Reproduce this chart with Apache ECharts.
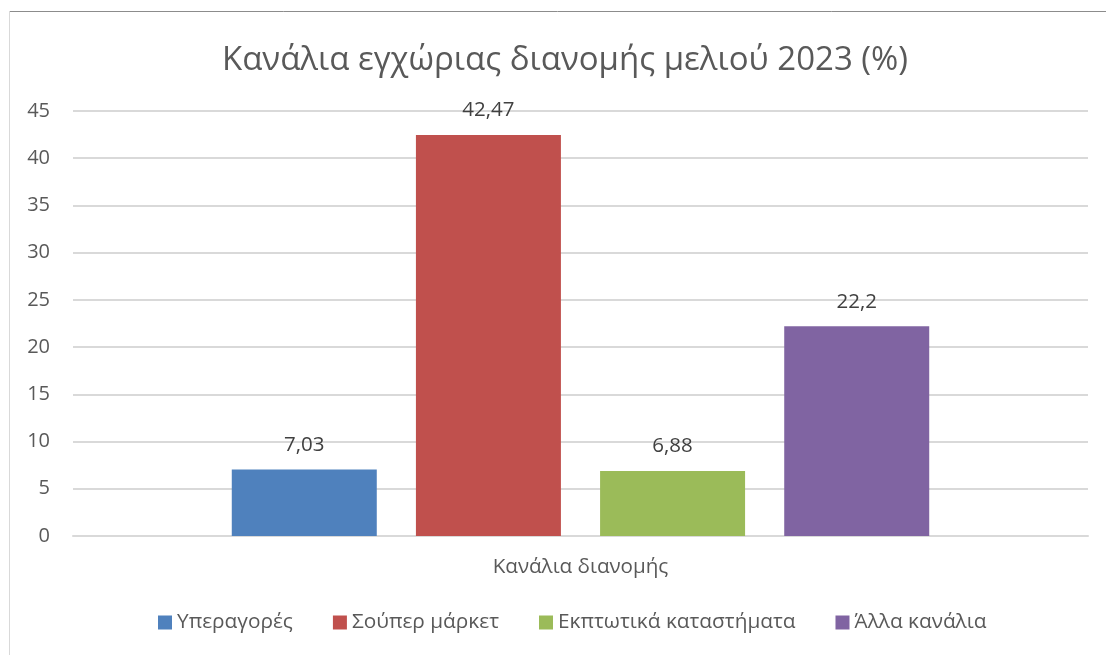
<!DOCTYPE html>
<html><head><meta charset="utf-8">
<script src="https://cdn.jsdelivr.net/npm/echarts@6/dist/echarts.min.js"></script>
<style>html,body{margin:0;padding:0;background:#fff}#c{width:1106px;height:655px}</style>
</head><body><div id="c"></div>
<script>
const titleText = 'Κανάλια εγχώριας διανομής μελιού 2023 (%)';
const categories = ['Κανάλια διανομής'];
const seriesNames = ['Υπεραγορές', 'Σούπερ μάρκετ', 'Εκπτωτικά καταστήματα', 'Άλλα κανάλια'];
const seriesValues = [7.03, 42.47, 6.88, 22.2];
const colors = ['#4f81bd', '#c0504d', '#9bbb59', '#8064a2'];

const font = '"Open Sans", "Noto Sans", sans-serif';
const chart = echarts.init(document.getElementById('c'), null, {renderer: 'canvas'});
chart.setOption({
  animation: false,
  backgroundColor: '#fff',
  title: {text: titleText, left: 560, textAlign: 'center', top: 39,
    textStyle: {fontFamily: font, fontSize: 33, fontWeight: 'normal', color: '#595959'}},
  grid: {left: 73, right: 18, top: 111, bottom: 119, containLabel: false},
  legend: {top: 607, left: 153, itemWidth: 14, itemHeight: 14, itemGap: 40,
    icon: 'rect', textStyle: {fontFamily: font, fontSize: 20.8, color: '#595959'}},
  xAxis: {type: 'category', data: categories,
    axisLine: {lineStyle: {color: '#d9d9d9', width: 2}}, axisTick: {show: false},
    axisLabel: {fontFamily: font, fontSize: 20.6, color: '#595959', margin: 21}},
  yAxis: {type: 'value', min: 0, max: 45, interval: 5,
    axisLine: {show: false}, axisTick: {show: false},
    splitLine: {lineStyle: {color: '#d9d9d9', width: 2}},
    axisLabel: {fontFamily: font, fontSize: 20, color: '#595959', margin: 23}},
  graphic: [
    {type: 'line', shape: {x1: 9, y1: 11.5, x2: 1106, y2: 11.5}, style: {stroke: '#8c8c8c', lineWidth: 1}, z: 100},
    {type: 'line', shape: {x1: 9.5, y1: 11, x2: 9.5, y2: 655}, style: {stroke: '#d9d9d9', lineWidth: 1}, z: 100}
  ],
  series: seriesNames.map((n, i) => ({
    name: n, type: 'bar',
    data: [seriesValues[i]],
    barWidth: 145, barGap: '27%',
    itemStyle: {color: colors[i]},
    label: {show: true, position: 'top', distance: 14,
      fontFamily: font, fontSize: 20.5, color: '#404040',
      formatter: p => String(p.value).replace('.', ',')}
  }))
});
</script></body></html>
